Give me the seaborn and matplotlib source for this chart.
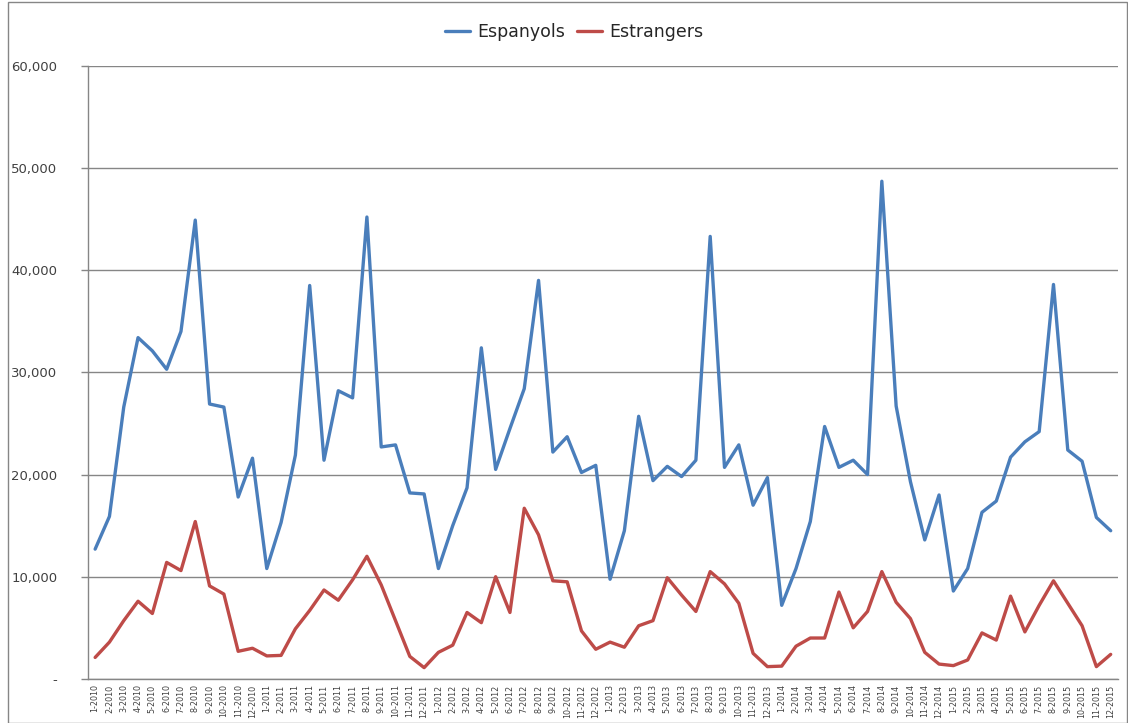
import pandas as pd
import numpy as np
import matplotlib.pyplot as plt
import matplotlib.ticker as mticker
import seaborn as sns

# Monthly values
years = [2010, 2011, 2012, 2013, 2014, 2015]
months = list(range(1, 13))

espanyols = [
    12700, 15900, 26600, 33400, 32100, 30300, 34000, 44900, 26900, 26600, 17800, 21600,
    10800, 15300, 21900, 38500, 21400, 28200, 27500, 45200, 22700, 22900, 18200, 18100,
    10800, 15000, 18700, 32400, 20500, 24500, 28400, 39000, 22200, 23700, 20200, 20900,
    9750, 14500, 25700, 19400, 20800, 19800, 21400, 43300, 20700, 22900, 17000, 19700,
    7200, 10800, 15400, 24700, 20700, 21400, 20000, 48700, 26700, 19300, 13600, 18000,
    8600, 10800, 16300, 17400, 21700, 23200, 24200, 38600, 22400, 21300, 15800, 14500,
]
estrangers = [
    2100, 3600, 5700, 7600, 6400, 11400, 10600, 15400, 9100, 8300, 2700, 3000,
    2250, 2300, 4900, 6700, 8700, 7700, 9700, 12000, 9200, 5700, 2200, 1100,
    2600, 3300, 6500, 5500, 10000, 6500, 16700, 14100, 9600, 9500, 4700, 2900,
    3600, 3100, 5200, 5700, 9900, 8200, 6600, 10500, 9300, 7400, 2500, 1200,
    1250, 3200, 4000, 4000, 8500, 5000, 6600, 10500, 7500, 5900, 2600, 1450,
    1300, 1850, 4500, 3800, 8100, 4600, 7200, 9600, 7400, 5200, 1200, 2400,
]
month_labels = [f"{m}-{y}" for y in years for m in months]

series_names = ["Espanyols", "Estrangers"]
palette = {"Espanyols": "#4A7EBB", "Estrangers": "#BE4B48"}

sns.set_theme(style="white")
plt.rcParams['font.family'] = ['DejaVu Sans']

def main():
    idx = np.arange(len(month_labels))
    df = pd.concat([
        pd.DataFrame({'idx': idx, 'value': espanyols, 'serie': series_names[0]}),
        pd.DataFrame({'idx': idx, 'value': estrangers, 'serie': series_names[1]}),
    ])

    fig = plt.figure(figsize=(11.28, 7.23), dpi=100)
    ax = fig.add_axes([0.078, 0.061, 0.913, 0.848])

    sns.lineplot(data=df, x='idx', y='value', hue='serie', palette=palette,
                 linewidth=2.4, ax=ax)

    # axes and grid in Excel grey
    grey = '#868686'
    ax.set_ylim(0, 60000)
    ax.set_xlim(-0.5, len(month_labels) - 0.5)
    ax.yaxis.set_major_locator(mticker.MultipleLocator(10000))
    ax.yaxis.set_major_formatter(mticker.FuncFormatter(
        lambda v, p: '-' if v == 0 else f"{int(v):,}"))
    ax.grid(axis='y', color=grey, linewidth=1)
    ax.set_axisbelow(True)
    for s in ['top', 'right']:
        ax.spines[s].set_visible(False)
    for s in ['left', 'bottom']:
        ax.spines[s].set_color(grey)
        ax.spines[s].set_linewidth(1)

    ax.set_xticks(idx)
    ax.set_xticklabels(month_labels, rotation=90, fontsize=5.8, color='#404040',
                       family=['Liberation Sans Narrow', 'DejaVu Sans'])
    ax.set_xticks(np.arange(-0.5, len(month_labels)), minor=True)
    ax.tick_params(axis='x', which='major', length=0, pad=4)
    ax.tick_params(axis='x', which='minor', length=5, color=grey, width=1)
    ax.tick_params(axis='y', length=5, color=grey, width=1, labelsize=9.5,
                   labelcolor='#404040', pad=17, left=True)
    ax.set_xlabel('')
    ax.set_ylabel('')

    ax.legend(loc='center', bbox_to_anchor=(0.472, 1.055), ncol=2,
              frameon=False, fontsize=12.5, handlelength=1.45, handletextpad=0.4,
              columnspacing=0.7, title=None)

    # outer chart border
    fig.patches.append(plt.Rectangle((0.007, 0.0), 0.992, 0.997, transform=fig.transFigure,
                                     fill=False, edgecolor=grey, linewidth=1))

    plt.savefig('out.png', dpi=100)

if __name__ == '__main__':
    main()
